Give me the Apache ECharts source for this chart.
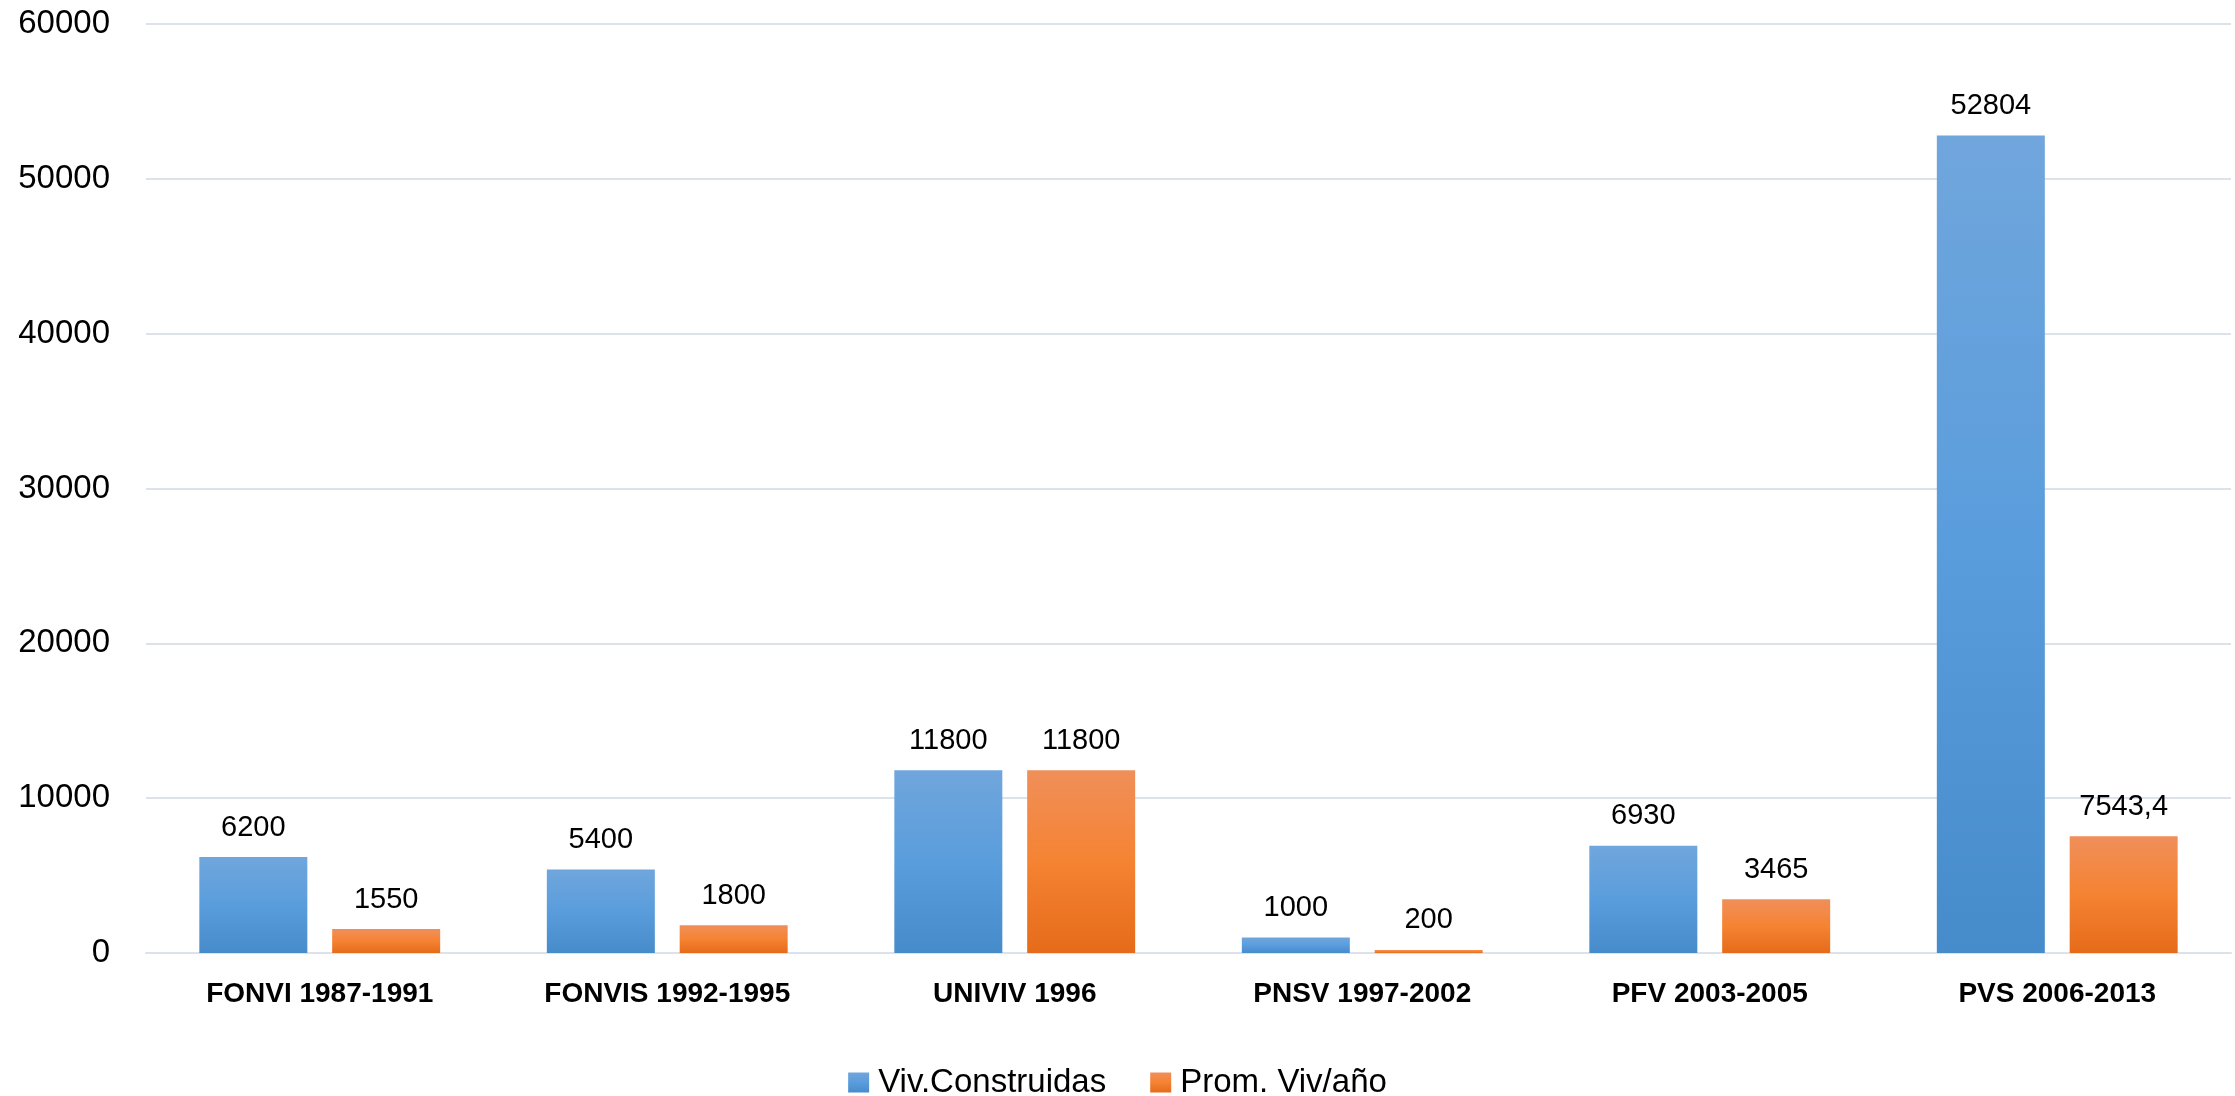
<!DOCTYPE html>
<html>
<head>
<meta charset="utf-8">
<style>
  html, body { margin: 0; padding: 0; background: #fff; }
  #chart { width: 2235px; height: 1096px; }
</style>
<script src="https://cdn.jsdelivr.net/npm/echarts@6/dist/echarts.min.js"></script>
</head>
<body>
<div id="chart"></div>
<script>
const categories = ['FONVI 1987-1991', 'FONVIS 1992-1995', 'UNIVIV 1996', 'PNSV 1997-2002', 'PFV 2003-2005', 'PVS 2006-2013']
const vivConstruidas = [6200, 5400, 11800, 1000, 6930, 52804]
const promVivAnio = [1550, 1800, 11800, 200, 3465, 7543.4]
const yTicks = [0, 10000, 20000, 30000, 40000, 50000, 60000]

const FONT = '"Liberation Sans", Arial, sans-serif'

function gradient(top, mid, bottom) {
  return {
    type: 'linear', x: 0, y: 0, x2: 0, y2: 1,
    colorStops: [
      { offset: 0, color: top },
      { offset: 0.5, color: mid },
      { offset: 1, color: bottom }
    ]
  }
}

const labelStyle = {
  show: true,
  position: 'top',
  distance: 15,
  color: '#000',
  fontFamily: FONT,
  fontSize: 29,
  formatter: (p) => String(p.value).replace('.', ',')
}

const chart = echarts.init(document.getElementById('chart'))
chart.setOption({
  animation: false,
  backgroundColor: '#fff',
  grid: { left: 146, right: 4, top: 24, bottom: 143 },
  legend: {
    data: ['Viv.Construidas', 'Prom. Viv/año'],
    left: 'center',
    top: 1061,
    icon: 'rect',
    itemWidth: 21,
    itemHeight: 20,
    itemGap: 44,
    textStyle: { fontFamily: FONT, fontSize: 33, color: '#000', padding: [0, 0, 0, 4] }
  },
  xAxis: {
    type: 'category',
    data: categories,
    axisLine: { lineStyle: { color: '#dde2ea', width: 2 } },
    axisTick: { show: false },
    axisLabel: { fontFamily: FONT, fontSize: 28, fontWeight: 'bold', color: '#000', margin: 27 }
  },
  yAxis: {
    type: 'value',
    min: yTicks[0],
    max: yTicks[yTicks.length - 1],
    interval: yTicks[1] - yTicks[0],
    axisLine: { show: false },
    axisTick: { show: false },
    splitLine: { lineStyle: { color: '#dde2ea', width: 2 } },
    axisLabel: {
      fontFamily: FONT, fontSize: 33, color: '#000', margin: 36,
      formatter: (v) => String(v)
    }
  },
  series: [
    {
      name: 'Viv.Construidas',
      type: 'bar',
      data: vivConstruidas,
      barWidth: 108,
      barGap: '23%',
      itemStyle: { color: gradient('#70a6dc', '#5a9ddc', '#468bca') },
      label: labelStyle
    },
    {
      name: 'Prom. Viv/año',
      type: 'bar',
      data: promVivAnio,
      barWidth: 108,
      itemStyle: { color: gradient('#f08f5a', '#f58332', '#e56b1a') },
      label: labelStyle
    }
  ]
})
</script>
</body>
</html>
